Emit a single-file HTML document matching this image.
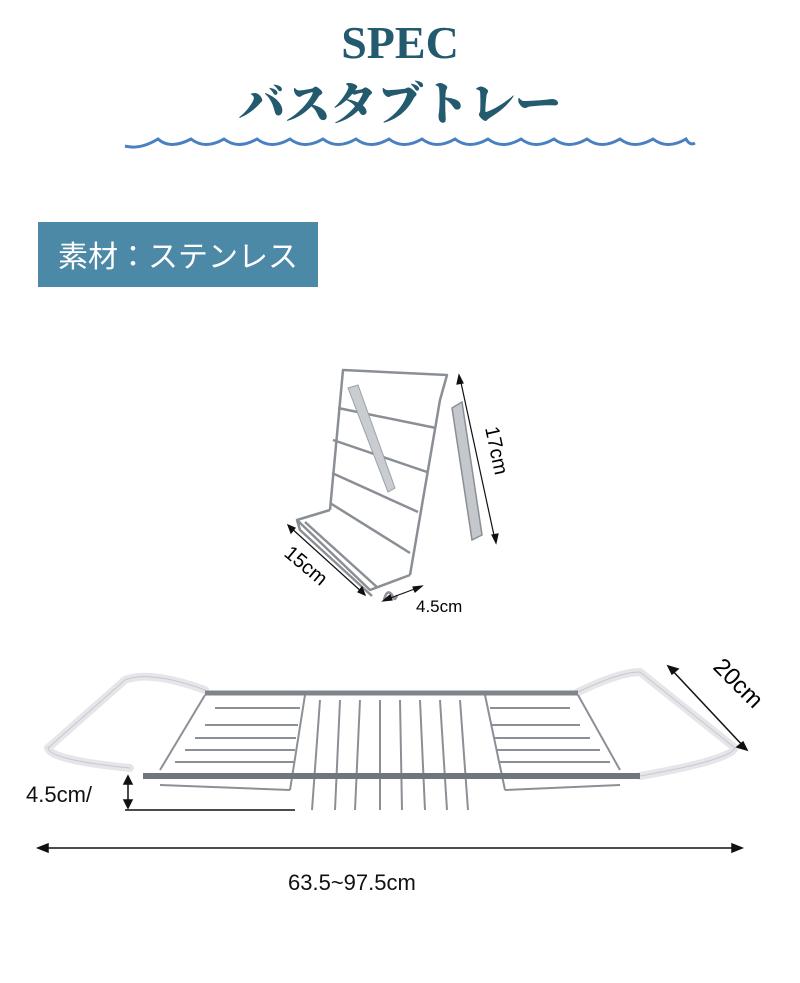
<!DOCTYPE html>
<html><head><meta charset="utf-8"><style>
html,body{margin:0;padding:0;background:#fff}
body{width:800px;height:983px;position:relative;overflow:hidden;font-family:"Liberation Sans","Noto Sans CJK JP",sans-serif}
.t1{position:absolute;top:16px;left:0;width:800px;text-align:center;font-family:"Liberation Serif","Noto Serif CJK SC",serif;font-size:46px;color:#245a6e;font-weight:bold}
.t2{position:absolute;top:68px;left:0;width:800px;text-align:center;font-family:"Noto Serif CJK SC",serif;font-size:46px;color:#245a6e;letter-spacing:0px;font-weight:900}
.box{position:absolute;left:38px;top:222px;width:280px;height:65px;background:#4c89a6;color:#fff;font-size:30px;line-height:65px;text-align:center;font-family:"Noto Sans CJK JP",sans-serif}
.lb{position:absolute;font-size:18px;color:#111}
</style></head><body>
<div class="t1">SPEC</div>
<div class="t2">バスタブトレー</div>
<svg style="position:absolute;left:0;top:0" width="800" height="983">
<path d="M125 146 Q140 150 158 139 Q170 150 191 139 Q205 150 224 139 Q238 150 257 139 Q271 150 290 139 Q304 150 323 139 Q337 150 356 139 Q370 150 389 139 Q403 150 422 139 Q436 150 455 139 Q469 150 488 139 Q502 150 521 139 Q535 150 554 139 Q568 150 587 139 Q601 150 620 139 Q634 150 653 139 Q667 150 686 139 Q690 146 695 143" fill="none" stroke="#4a80c0" stroke-width="3"/>
<!-- book stand -->
<g stroke="#8a8f96" fill="none" stroke-width="2.5" stroke-linejoin="round">
<path d="M330 510 L343 370 L447 375 L440 400 L410 575"/>
<path d="M338 408 L436 428 M333 440 L427 472 M332 473 L418 512 M330 503 L410 553"/>
<path d="M330 510 L297 520 L370 590 L410 575 M297 520 L300 530 L372 596 M305 522 L378 588"/>
<path d="M384 600 q3 -12 8 -5 q3 8 5 0"/>
</g>
<path d="M452 408 L472 540 L482 535 L462 402 Z" fill="#c4c8cd" stroke="#8a8f96" stroke-width="1.5"/>
<path d="M348 388 L388 492 L395 488 L358 385 Z" fill="#c9cdd1" stroke="#9aa0a6" stroke-width="1"/>
<g stroke="#111" stroke-width="1.2" fill="#111">
<line x1="460" y1="378" x2="495" y2="540"/>
<path d="M459 375 l-2 9 l6 -1z M496 543 l2 -9 l-6 1z"/>
<line x1="290" y1="527" x2="363" y2="593"/>
<path d="M288 525 l3 8 l4 -5z M365 595 l-3 -8 l-4 5z"/>
<line x1="385" y1="600" x2="420" y2="587"/>
<path d="M383 601 l7 -6 l2 5z M422 586 l-7 6 l-2 -5z"/>
</g>
<text x="0" y="0" font-size="20" transform="translate(485 428) rotate(78)" font-family="Liberation Sans">17cm</text>
<text x="0" y="0" font-size="20" transform="translate(283 555) rotate(40)" font-family="Liberation Sans">15cm</text>
<text x="416" y="612" font-size="17" font-family="Liberation Sans">4.5cm</text>
<!-- tray -->
<g fill="none" stroke-linecap="round">
<path d="M205 690 Q150 670 125 680 L48 748 Q50 760 130 768" stroke="#e6e6ea" stroke-width="8"/>
<path d="M205 690 Q150 670 125 680 L48 748 Q50 760 130 768" stroke="#c8c8cc" stroke-width="1"/>
<path d="M578 692 Q620 672 640 672 L735 748 Q730 760 640 776" stroke="#e6e6ea" stroke-width="8"/>
<path d="M578 692 Q620 672 640 672 L735 748 Q730 760 640 776" stroke="#c8c8cc" stroke-width="1"/>
</g>
<g stroke="#8b9097" fill="none" stroke-width="2">
<path d="M205 695 L160 770 M305 695 L290 790 M485 695 L505 790 M578 695 L620 770"/>
<path d="M215 708 L300 708 M205 725 L298 725 M195 738 L296 738 M185 750 L295 750 M175 762 L294 762"/>
<path d="M490 708 L570 708 M492 725 L580 725 M494 738 L590 738 M496 750 L600 750 M498 762 L610 762"/>
<path d="M160 785 L290 790 M505 790 L620 785"/>
<path d="M320 700 L312 810 M340 700 L335 810 M360 700 L355 810 M380 700 L380 810 M400 700 L402 810 M420 700 L425 810 M440 700 L447 810 M460 700 L468 810"/>
</g>
<line x1="205" y1="693" x2="578" y2="693" stroke="#7f858c" stroke-width="5"/>
<line x1="143" y1="776" x2="640" y2="776" stroke="#6f767e" stroke-width="6"/>
<g stroke="#111" stroke-width="1.5" fill="#111">
<line x1="670" y1="668" x2="745" y2="748"/>
<path d="M668 666 l10 3 l-6 5z M747 750 l-10 -3 l6 -5z"/>
<line x1="128" y1="776" x2="128" y2="808"/>
<line x1="125" y1="810" x2="295" y2="810"/>
<path d="M128 776 l-4 8 h8z M128 808 l-4 -8 h8z"/>
<line x1="40" y1="848" x2="740" y2="848"/>
<path d="M38 848 l10 -4 v8z M742 848 l-10 -4 v8z"/>
</g>
<text x="0" y="0" font-size="24" transform="translate(712 668) rotate(45)" font-family="Liberation Sans">20cm</text>
</svg>
<div class="lb" style="left:26px;top:782px;font-size:22px">4.5cm/</div>
<div class="lb" style="left:288px;top:870px;font-size:22px">63.5~97.5cm</div>
<div class="box">素材：ステンレス</div>
</body></html>
